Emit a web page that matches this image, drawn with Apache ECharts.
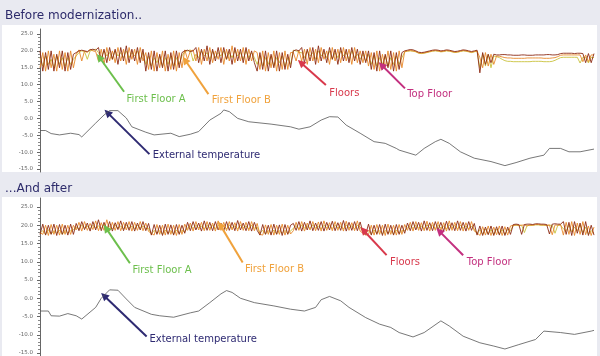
<!DOCTYPE html>
<html><head><meta charset="utf-8">
<script src="https://cdn.jsdelivr.net/npm/echarts@6/dist/echarts.min.js"></script>
<style>html,body{margin:0;padding:0;background:#e9eaf1}#c{width:600px;height:356px}</style>
</head><body><div id="c"></div>
<script>
// ---- data (time index 0..199, temperatures in °C) ----
const beforeFloor1 = [20,14,19.5,14.5,20,14,19,15,20,14,19.5,14.5,19,
19.5,20,20.2,20,19.8,20.3,20.5,20.2,
21,17,20.5,16.5,21,17.5,20.5,16,21,17,21.5,16.5,20.5,17,21,16.5,20.5,
14,19.5,14.5,20,14,19,15,20,14,19.5,14.5,20,15,19.5,
20,20.2,19.8,20,
21,16.5,20.5,17,21.5,16,20.5,17,21,16.5,21,17.5,20.5,16,21,17,20.5,16.5,21,17,20,16.5,
14,19.5,14.5,20,14,19,15,20,14,19.5,14.5,19,15,
20,20.3,20,
21,16.5,20.5,17,21,16,21.5,17,20.5,16.5,21,17.5,20.5,16,21,17,20.5,16.5,21,17,20.5,16,20,16.5,20,
14.5,19.5,14,20,14.5,19,15,20,14,19.5,14.5,19.5,
20,20.2,20.4,20.3,20,19.6,19.5,19.6,19.8,20,20.2,20.3,20.2,20,20.1,20.3,20.2,20,19.8,19.9,20.1,20.3,20.2,20,19.8,20,20.2,
13.5,19.5,16,19,16.5,19,
18.8,18.8,18.9,18.9,18.8,18.8,18.7,18.7,18.7,18.8,18.8,18.7,18.7,18.7,18.8,18.8,18.8,18.8,18.9,18.9,18.8,18.8,18.9,19.2,19.3,19.3,19.3,19.3,19.2,19.3,19.3,19.2,16.5,19.2,16.5,19.2];
const beforeFloor2 = [15,19.5,14,20,15,19,14,20,14.5,19.5,14,20,15,
19,20.3,17,20,19.5,20.5,20,19.8,
17,20.5,16,21,17,20,16.5,21,17,20.5,16,21,17.5,20.5,16,21,17,
19.5,14.5,20,14,19.5,15,20,14,19,14.5,20,14,19.5,15,
20.3,17.5,20,20.2,
17,21,16,20.5,17,21,16.5,20,17.5,21,16,20.5,17,21.5,16.5,20.5,17,21,16,20.5,17,20,
19.5,14.5,20,14,19.5,15,20,14,19.5,14.5,20,14.5,19.5,
19.5,17,20.2,
17,20.5,16,21,17,20.5,16.5,21,17.5,20,16,21,17,20.5,16.5,21,17,20.5,16,21,16.5,20,16.5,20,15.5,
19.5,14.5,20,14,19,15,20,14.5,19.5,14,20,15,
19.8,20,20.1,20,19.8,19.4,19.3,19.4,19.6,19.8,20,20.1,20,19.8,19.9,20.1,20,19.8,19.6,19.7,19.9,20.1,20,19.8,19.6,19.8,20,
18,15,19.5,15.5,19,16,
18.5,18.4,18.2,18,17.9,17.9,17.8,17.8,17.8,17.8,17.8,17.9,17.9,17.9,17.9,17.9,17.9,17.8,17.8,17.8,17.9,18,18.3,18.7,18.8,18.8,18.8,18.8,18.8,18.8,18.8,16.8,18.8,16.8,18.8,18.8];
const beforeFloor3 = [18,15.5,18.5,16,17.5,15,18.5,16,18,15.5,18,16,17.5,
18.5,19.5,20,19.8,17.5,20,20.2,20.5,
19.5,18,20,18.5,19.5,17.5,20,18.5,19.5,18,20,18,19.5,18.5,20,17.5,19.5,
16,18.5,15.5,18,16.5,18.5,15.5,18,16,18.5,15.5,18,16,18.5,
19.8,20,20.3,17,
19,18,20,18.5,19.5,17.5,20,18,19.5,18.5,20,17.5,19.5,18,20,18.5,19.5,17.5,20,18,19.5,18,
16,18.5,15.5,18,16,18.5,15.5,18,16.5,18.5,15.5,18,16,
20.2,20,19.5,
19.5,18,20,18.5,19.5,17.5,20,18.5,19.5,18,20,17.5,19.5,18,20,18.5,19.5,17.5,20,18,19,17.5,19,17,19,
16,18.5,15.5,18,16,18.5,15.5,18,16,18.5,16,18,
19.7,19.9,20,19.9,19.7,19.3,19.2,19.3,19.5,19.7,19.9,20,19.9,19.7,19.8,20,19.9,19.7,19.5,19.6,19.8,20,19.9,19.7,19.5,19.7,19.9,
15,19,15.5,19,15,18.5,
18.3,18,17.5,17.1,16.9,16.9,16.8,16.8,16.8,16.8,16.8,16.8,16.8,16.9,16.9,16.9,16.9,16.8,16.8,16.8,16.9,17.2,17.6,18,18.1,18.1,18.1,18.1,18.1,18.1,16.4,18.1,18.1,16.4,18.1,18];

const afterFloor1 = [17.5,20.3,17.3,20,17.5,20.3,17.2,20.2,17.5,20,17.3,20.3,17.5,
20.5,18.5,21,18.8,20.6,18.4,21,18.7,21.5,18.5,20.8,18.6,21,18.4,20.7,18.8,21.2,18.5,20.8,18.6,21,18.4,20.6,18.7,21,18.5,20.5,
17.3,20.2,17.5,20,17.2,20.3,17.5,20.1,17.3,20.2,17.5,20,17.8,
20.8,18.5,21,18.7,20.6,18.4,21.2,18.6,20.8,18.5,21,18.7,20.6,18.4,21,18.6,20.8,18.5,21.3,18.7,20.6,18.5,21,18.4,20.8,18.6,
17.3,20.2,17.5,20,17.3,20.3,17.5,20.1,17.2,20.2,17.5,20,
20.5,18.6,21,18.4,20.8,18.7,21.2,18.5,20.6,18.6,21,18.4,20.8,18.7,21.1,18.5,20.7,18.6,21.3,18.4,20.8,18.6,21,18.5,20.9,18,
17.5,20.3,17.3,20,17.5,20.2,17.2,20.3,17.5,20,17.3,20.2,17.5,20,17.8,
20.6,18.5,21,18.7,20.8,18.4,21.2,18.6,20.7,18.5,21,18.7,20.8,18.4,21.1,18.6,20.7,18.5,21.2,18.6,20.8,18.4,21,18.6,20.5,
17.3,19.8,17.2,19.5,17.4,19.8,17.2,19.6,17.3,19.8,17.2,19.5,17.5,
20.2,20.3,20.2,17.5,20.2,20.3,20.3,20.2,20.4,20.4,20.3,20.3,20.2,17.6,20.3,20.4,20.3,20.3,
21,17.5,20.8,17.2,21,17.8,20.6,17.3,21,
17.2,20,17.3];
const afterFloor2 = [18,17.5,20,17.2,20.2,17.5,20,17.3,20.3,17.5,20,17.5,20,
18.7,20.8,18.4,21,18.6,20.5,18.8,21.2,18.5,20.7,18.6,21.5,18.4,20.8,18.6,21,18.5,20.8,18.7,21,18.4,20.8,18.6,21,18.5,20.6,18.3,
17.8,17.3,20.2,17.5,20,17.3,20.3,17.5,20,17.2,20.2,17.5,20.3,
18.6,20.6,18.4,21,18.7,20.8,18.5,21,18.6,20.6,18.4,21.2,18.6,20.8,18.5,21,18.7,20.7,18.4,21,18.6,20.8,18.5,21,18.5,20.5,
17.5,17.3,20.1,17.5,20.2,17.3,20,17.5,20.3,17.3,20,17.6,
18.5,20.8,18.6,21,18.4,20.6,18.7,21,18.5,20.9,18.4,21.2,18.6,20.7,18.5,21,18.6,20.8,18.4,21.1,18.6,20.7,18.5,21.2,18.4,17.8,
17.3,17.5,20,17.3,20.2,17.5,20,17.2,20.3,17.5,20,17.3,20.2,17.5,20.2,
18.6,20.8,18.4,21,18.6,20.7,18.5,21.1,18.4,20.8,18.6,21,18.5,20.7,18.4,21.2,18.6,20.8,18.5,21,18.4,20.7,18.6,21,18.4,
18,17.2,19.6,17.3,19.8,17.2,19.5,17.4,19.8,17.2,19.6,17.3,19.8,
20,20.1,20,20,20.1,19.8,20.1,20,20.2,20.2,20.1,20.1,20,20.1,17.4,20.1,20,20.2,
17.3,20.8,17.5,21,17.2,20.6,17.5,21,17.4,
19.8,17.2,19.5];
const afterFloor3 = [17.8,18.5,17.5,18.8,17.6,18.5,17.8,18.7,17.5,18.6,17.8,18.5,18.8,
19.5,19,20,19.3,19.8,19,20,19.2,19.8,19.1,20.2,19.3,19.8,19,20,19.2,19.8,19,20.1,19.3,19.7,19.1,20,19.2,19.8,19.1,19.2,
17.6,18.6,17.8,18.5,17.5,18.7,17.8,18.5,17.6,18.7,17.8,18.6,18.2,
19.3,19.8,19.1,20,19.3,19.8,19,20,19.2,19.9,19.1,20,19.3,19.8,19,20.1,19.2,19.8,19.1,20,19.3,19.8,19,20,19.2,19.5,
17.8,18.6,17.6,18.5,17.8,18.7,17.6,18.5,17.8,18.6,17.7,18.4,
19.2,19.9,19,20,19.3,19.8,19.1,20.1,19.2,19.8,19,20,19.3,19.9,19.1,20,19.2,19.8,19,20.1,19.3,19.8,19.1,20,19.5,18.2,
17.8,18.5,17.6,18.7,17.8,18.5,17.6,18.6,17.8,18.5,17.6,18.7,17.8,18.5,18.5,
19.3,19.9,19.1,20,19.2,19.8,19,20.1,19.3,19.9,19.1,20,19.2,19.8,19,20.1,19.3,19.9,19.1,20,19.2,19.8,19,19.8,19,
17.6,18.8,17.5,19,17.6,18.8,17.5,19,17.6,18.8,17.5,18.9,18.5,
19.9,20,19.9,20,18,20,19.9,20,20.1,20.1,20,20,19.9,20,20,17.8,20,20,
19,18.5,20,18.2,19.5,18.5,20,18,19.5,
17.5,18.5,17.8];

const extBeforeT = [0,2,4,7,11,14,15,20,23,25,28,31,33,38,41,47,50,54,57,61,65,66,68,71,75,83,90,93,97,101,104,107,110,115,120,124,128,129,135,138,142,144,147,151,156,162,167,171,176,181,183,187,190,194,199];
const extBeforeV = [-3.6,-3.6,-4.5,-4.9,-4.4,-4.8,-5.5,-1.4,1.0,2.3,2.3,0.1,-2.5,-4.1,-4.9,-4.4,-5.4,-4.7,-3.9,-0.5,1.5,2.5,2.0,0.0,-1.0,-1.7,-2.5,-3.2,-2.5,-0.5,0.5,0.4,-2.0,-4.4,-6.9,-7.4,-8.9,-9.4,-10.9,-8.9,-6.9,-6.2,-7.4,-9.9,-11.8,-12.8,-14.0,-13.1,-11.8,-10.9,-8.9,-8.9,-9.9,-9.9,-9.1];
const extAfterT = [0,3,4,7,10,13,15,20,22,25,28,31,34,40,43,48,54,57,61,65,67,69,72,77,84,90,95,99,101,104,108,111,117,122,126,129,134,138,144,147,152,158,163,167,172,178,181,187,192,198,199];
const extAfterV = [-3.5,-3.5,-4.8,-4.9,-4.2,-4.8,-5.7,-2.5,0.0,2.3,2.2,-0.2,-2.5,-4.4,-4.8,-5.2,-4.0,-3.5,-1.2,1.2,2.1,1.6,0.0,-1.2,-2.1,-3.0,-3.5,-2.5,-0.4,0.5,-0.7,-2.5,-5.3,-7.1,-8.0,-9.4,-10.6,-9.4,-6.2,-7.6,-10.4,-12.2,-13.1,-13.9,-12.7,-11.3,-9.0,-9.4,-9.9,-9.0,-8.8];

const yMin = -15, yMax = 25, yStep = 5;
const panelTitles = ['Before modernization..', '...And after'];

// annotations (data coordinates: [time index, °C])
const annoLabels = ['First Floor A','First Floor B','Floors','Top Floor','External temperature'];
const annoColors = ['#6cbf4c','#f0a23c','#d8394c','#c3307f','#2e2a72'];
const beforeArrowHead = [[21.3,18.1],[52.1,17.3],[93.7,16.5],[122.7,15.8],[24.2,1.7]];
const beforeArrowTail = [[30.2,7.9],[60.5,7.2],[102.7,9.9],[131.1,8.9],[39.3,-10.6]];
const beforeLabelAt   = [[31.1,5.7],[61.7,5.2],[103.9,7.4],[131.9,7.1],[40.5,-10.9]];
const afterArrowHead  = [[23.7,19.2],[64.7,20.1],[116.1,18.7],[143.4,18.4],[23,0.7]];
const afterArrowTail  = [[32.3,9.6],[72.8,9.8],[124.5,11.8],[152,11.8],[38.3,-10.5]];
const afterLabelAt    = [[33.2,7.7],[73.6,8.0],[125.7,9.8],[153.3,9.8],[39.3,-11.2]];

const floorColors = ['#c9c23c','#e8892a','#8c2a14'];

// ---- chart ----
const chart = echarts.init(document.getElementById('c'), null, {renderer:'canvas'});
const grids = [
  {left:40, top:34, width:554, height:135},
  {left:40, top:207, width:554, height:146},
  {left:40, top:29, width:554, height:143},
  {left:40, top:198, width:554, height:158}
];
function mainY(g){
  return {type:'value', gridIndex:g, min:yMin, max:yMax, interval:yStep,
    axisLine:{show:true, lineStyle:{color:'#666', width:1}},
    axisTick:{show:true, length:3, lineStyle:{color:'#666'}},
    minorTick:{show:true, splitNumber:5, length:2, lineStyle:{color:'#888'}},
    splitLine:{show:false},
    axisLabel:{fontSize:5.5, color:'#666', margin:7, formatter:v=>v.toFixed(1)}};
}
function lineOnlyY(g){
  return {type:'value', gridIndex:g, min:0, max:1, axisLine:{show:true, lineStyle:{color:'#666'}},
    axisTick:{show:false}, axisLabel:{show:false}, splitLine:{show:false}};
}
const xAxes = [0,1,2,3].map(g=>({type:'value', gridIndex:g, min:0, max:199, show:false}));
const yAxes = [mainY(0), mainY(1), lineOnlyY(2), lineOnlyY(3)];

function floorSeries(arr, k, color){
  return {type:'line', xAxisIndex:k, yAxisIndex:k, data:arr.map((v,i)=>[i,v]),
    showSymbol:false, symbol:'none', lineStyle:{color:color, width:0.9}, silent:true};
}
function extSeries(T, V, k, heads, tails){
  return {type:'line', xAxisIndex:k, yAxisIndex:k, data:T.map((t,i)=>[t,V[i]]),
    showSymbol:false, symbol:'none', lineStyle:{color:'#555', width:0.8}, silent:true, z:5,
    markLine:{silent:true, symbol:['none','triangle'], symbolSize:8, label:{show:false},
      animation:false,
      data: heads.map((h,i)=>[
        {coord:tails[i], lineStyle:{color:annoColors[i], width:2, type:'solid'}},
        {coord:h}
      ])}};
}
const series = [
  floorSeries(beforeFloor3,0,floorColors[0]),
  floorSeries(beforeFloor2,0,floorColors[1]),
  floorSeries(beforeFloor1,0,floorColors[2]),
  extSeries(extBeforeT, extBeforeV, 0, beforeArrowHead, beforeArrowTail),
  floorSeries(afterFloor3,1,floorColors[0]),
  floorSeries(afterFloor2,1,floorColors[1]),
  floorSeries(afterFloor1,1,floorColors[2]),
  extSeries(extAfterT, extAfterV, 1, afterArrowHead, afterArrowTail)
];

chart.setOption({
  animation:false,
  backgroundColor:'#e9eaf1',
  textStyle:{fontFamily:'"DejaVu Sans", Verdana, sans-serif'},
  grid:grids, xAxis:xAxes, yAxis:yAxes, series:series
});

const gfx = [
  {type:'rect', z:-10, shape:{x:2, y:25, width:595, height:147}, style:{fill:'#ffffff'}, silent:true},
  {type:'rect', z:-10, shape:{x:2, y:197, width:595, height:159}, style:{fill:'#ffffff'}, silent:true},
  {type:'text', x:5, y:16, z:50, style:{text:panelTitles[0], fill:'#2d2b6b', font:'12px "DejaVu Sans"', verticalAlign:'middle'}},
  {type:'text', x:5, y:189, z:50, style:{text:panelTitles[1], fill:'#2d2b6b', font:'12px "DejaVu Sans"', verticalAlign:'middle'}}
];
[[0,beforeLabelAt],[1,afterLabelAt]].forEach(([g,pts])=>{
  pts.forEach((p,i)=>{
    const px = chart.convertToPixel({gridIndex:g}, p);
    gfx.push({type:'text', x:px[0], y:px[1], z:50, style:{text:annoLabels[i], fill:annoColors[i], font:'10px "DejaVu Sans"', verticalAlign:'middle', align:'left'}});
  });
});
chart.setOption({graphic:gfx});
</script></body></html>
